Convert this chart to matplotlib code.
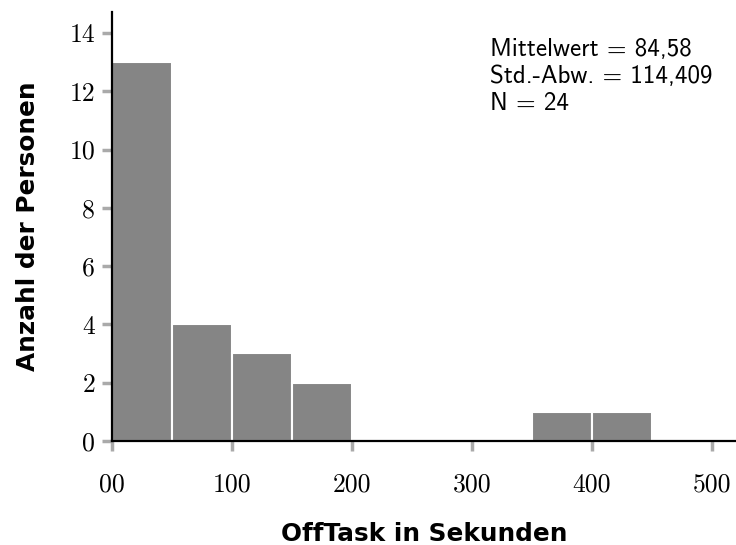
import matplotlib
matplotlib.use('Agg')
import matplotlib.pyplot as plt

bin_edges = [0, 50, 100, 150, 200, 250, 300, 350, 400, 450]
counts = [13, 4, 3, 2, 0, 0, 0, 1, 1]
x_ticks = [0, 100, 200, 300, 400, 500]
x_tick_labels = ['00', '100', '200', '300', '400', '500']
y_ticks = [0, 2, 4, 6, 8, 10, 12, 14]
stats_text = 'Mittelwert = 84,58\nStd.-Abw. = 114,409\nN = 24'

fig = plt.figure(figsize=(7.36, 5.45), dpi=100)
ax = fig.add_axes([0.152, 0.191, 0.848, 0.787])

ax.hist(bin_edges[:-1], bins=bin_edges, weights=counts,
        color='#858585', edgecolor='white', linewidth=1.5)

ax.set_xlim(0, 520)
ax.set_ylim(0, 14.72)

ax.spines['top'].set_visible(False)
ax.spines['right'].set_visible(False)
ax.spines['left'].set_linewidth(1.6)
ax.spines['bottom'].set_linewidth(1.6)

ax.set_xticks(x_ticks)
ax.set_xticklabels(x_tick_labels)
ax.set_yticks(y_ticks)
ax.tick_params(direction='out', length=7, width=2.5, color='#aaaaaa',
               labelsize=18.5)
ax.tick_params(axis='x', pad=16)
ax.tick_params(axis='y', pad=5)
for lab in ax.get_xticklabels() + ax.get_yticklabels():
    lab.set_family('cmr10')

ax.set_xlabel('OffTask in Sekunden', fontsize=17.8, fontweight='bold',
              family='DejaVu Sans', labelpad=18)
ax.set_ylabel('Anzahl der Personen', fontsize=17.8, fontweight='bold',
              family='DejaVu Sans', labelpad=21)

ax.text(0.606, 0.94, stats_text, transform=ax.transAxes, fontsize=18,
        family='cmss10', va='top', ha='left', linespacing=1.24)

fig.savefig('out.png', dpi=100)
